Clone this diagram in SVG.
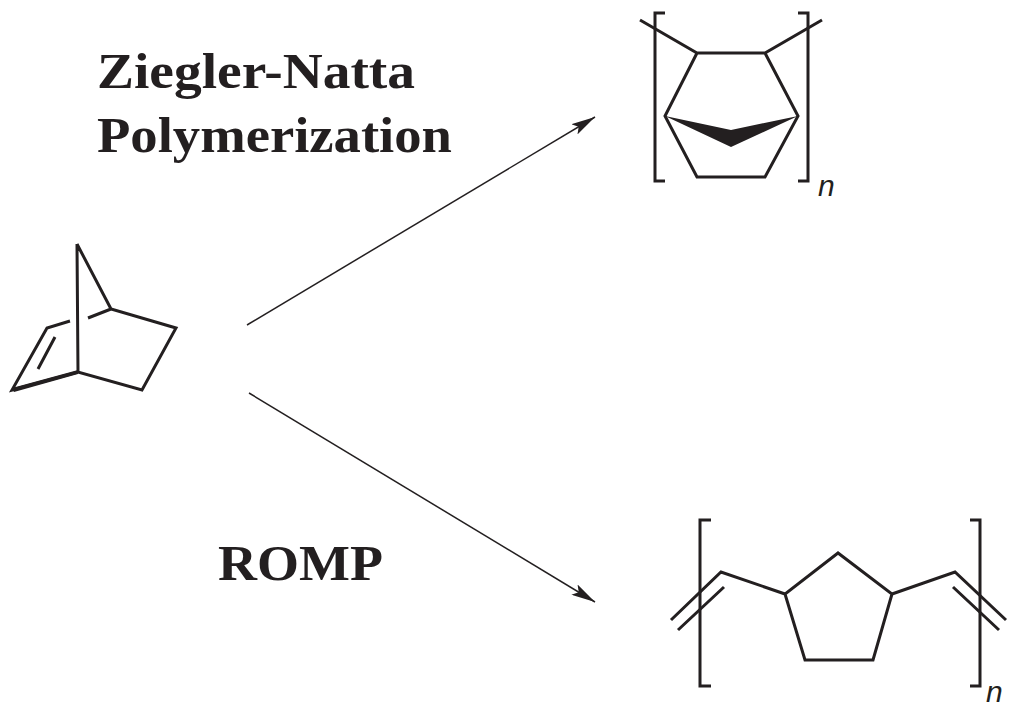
<svg xmlns="http://www.w3.org/2000/svg" width="1024" height="717" viewBox="0 0 1024 717">
<style>
.b{fill:none;stroke:#231f20;stroke-width:3;stroke-linejoin:miter;stroke-linecap:butt}
.t{font-family:"Liberation Serif",serif;font-weight:bold;font-size:50px;fill:#231f20}
.n{font-family:"Liberation Sans",sans-serif;font-style:italic;font-size:30px;fill:#231f20}
.a{stroke:#231f20;stroke-width:1.5;fill:none}
</style>
<defs><marker id="ah" markerWidth="24" markerHeight="12" refX="24" refY="6" orient="auto" markerUnits="userSpaceOnUse"><path d="M0,0 L24,6 L0,12 L5,6Z" fill="#231f20"/></marker></defs>
<rect width="1024" height="717" fill="#fff"/>
<text class="t" x="97" y="88" textLength="318" lengthAdjust="spacingAndGlyphs">Ziegler-Natta</text>
<text class="t" x="97" y="152" textLength="355" lengthAdjust="spacingAndGlyphs">Polymerization</text>
<text class="t" x="218" y="580" textLength="165" lengthAdjust="spacingAndGlyphs">ROMP</text>
<g id="norbornene">
<path class="b" d="M77,244 L78,372 M77,244 L111,309 L176,328 L142,390 L78,372 L12,390 L47,328 L70,321 M88,318 L111,309 M55,337 L38,369"/>
<path d="M12,388 L78,370 L78,374 L14,392Z" fill="#231f20"/>
</g>
<g id="zn-polymer">
<path class="b" d="M665,13 L655,13 L655,181 L665,181 M798,13 L808,13 L808,181 L798,181"/>
<path class="b" d="M640,20 L697,53 L765,53 L822,20 M697,53 L665,116 L697,177 L765,177 L798,116 L765,53"/>
<path d="M665,116 L731,130 L798,116 L731,147Z" fill="#231f20"/>
<text class="n" x="818" y="196">n</text>
</g>
<g id="romp-polymer">
<path class="b" d="M711,520 L700,520 L700,686 L711,686 M970,520 L980,520 L980,686 L970,686"/>
<path class="b" d="M838,553 L785,594 L805,660 L873,660 L892,594 Z M785,594 L721,572 L671,620 M724,587 L678,630 M892,594 L955,572 L1006,620 M953,587 L999,630"/>
<text class="n" x="986" y="702">n</text>
</g>
<g id="connectors">
<line class="a" x1="247" y1="325" x2="595" y2="117" marker-end="url(#ah)"/>
<line class="a" x1="249" y1="393" x2="595" y2="602" marker-end="url(#ah)"/>
</g>
</svg>
